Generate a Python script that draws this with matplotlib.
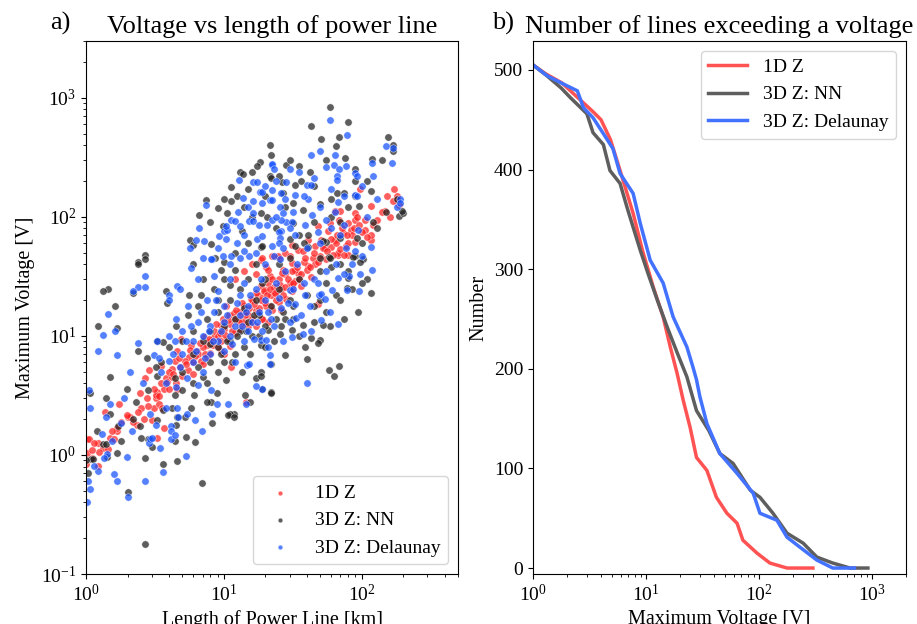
import numpy as np
import matplotlib
matplotlib.use("Agg")
import matplotlib.pyplot as plt

plt.rcParams["font.family"] = "serif"
plt.rcParams["font.serif"] = ["Liberation Serif", "DejaVu Serif"]
plt.rcParams["mathtext.fontset"] = "stix"

# ---- panel a) data: (length km, max voltage V) ----
pts_1d = [
    (1.0, 0.84), (1.01, 1.04), (1.02, 1.36), (1.05, 1.37), (1.22, 1.26), (1.33, 1.14),
    (1.44, 1.12), (1.49, 1.38), (1.6, 1.36), (1.67, 1.58), (1.67, 1.68), (1.22, 0.81),
    (2.0, 2.07), (2.07, 2.1), (2.36, 1.8), (2.65, 2.0), (3.0, 1.95), (3.3, 1.38),
    (3.7, 1.68), (1.1, 0.95), (1.15, 1.25), (1.37, 2.28), (1.73, 2.7), (1.97, 2.15),
    (2.45, 3.3), (2.52, 2.46), (2.75, 3.0), (2.7, 4.4), (2.88, 5.2), (3.1, 2.46),
    (3.2, 3.0), (3.4, 2.66), (3.58, 2.5), (3.3, 3.4), (3.7, 3.6), (3.8, 4.4),
    (4.2, 4.5), (4.2, 5.3), (4.4, 6.1), (4.6, 7.4), (4.9, 9.4), (5.6, 6.7),
    (5.8, 8.4), (6.4, 7.4), (6.8, 6.1), (7.2, 9.8), (7.5, 8.4), (8.5, 9.8),
    (9.5, 12.3), (10.3, 18), (10.9, 15), (11.8, 15.5), (13.2, 13.8), (14, 12.5),
    (14.6, 15.8), (15.8, 20.3), (17, 16.5), (17.8, 22), (20, 24.5), (20.3, 37.6),
    (21.6, 32), (18.5, 26.5), (17, 33), (21.6, 18), (14.4, 2.8), (11.2, 5.5),
    (9.5, 7.4), (4.6, 3.6), (3.5, 5.6), (18.5, 43), (22.2, 47), (25, 45),
    (27, 36), (31, 41), (34.5, 34), (41, 39), (43, 31), (36, 26.5),
    (28.3, 20.3), (25, 19.2), (20.3, 18), (22.2, 16.5), (18.8, 13.8), (21, 13.1),
    (26, 16.5), (24, 23.3), (31, 26.5), (33, 29), (67, 48), (79, 48),
    (48, 18.5), (98, 170), (153, 150), (172, 170), (116, 123), (188, 125),
    (63.5, 112), (70, 112), (89, 108), (48, 84), (58.6, 89), (69, 94),
    (79, 89), (89, 94), (93, 100), (57, 76), (63.5, 64), (73, 73),
    (83, 78), (105, 78), (116, 64), (41, 64), (45.6, 57), (50.6, 64),
    (54, 55), (67, 50), (76.5, 57), (34.5, 53), (31, 58), (27.8, 50),
    (37.6, 52), (24.9, 47), (30.3, 47), (181, 139), (148, 112), (116, 70),
    (12, 30), (14, 35), (16, 40), (19, 45), (21, 36),
    (3.2, 3.2), (3.5, 4.0), (4.0, 3.6), (4.0, 5.0), (4.5, 4.0), (4.8, 5.5),
    (5.0, 4.6), (5.2, 6.2), (5.5, 5.2), (6.0, 6.0), (6.0, 4.8), (6.5, 7.0),
    (7.0, 5.8), (7.0, 8.0), (7.5, 6.6), (8.0, 7.2), (8.0, 9.0), (8.5, 11),
    (9.0, 8.0), (9.0, 10), (9.5, 9.0), (10, 7.0), (10, 11.5), (10.5, 9.5),
    (11, 12.5), (11, 8.2), (12, 10.5), (12, 14), (13, 11.5), (13, 16),
    (14, 13), (14, 18), (15, 12), (15, 15), (16, 20), (16, 14),
    (17, 12), (17, 23), (18, 17), (19, 21), (19, 14), (20, 19),
    (21, 28), (22, 22), (23, 26), (24, 20), (25, 30), (26, 25),
    (27, 22), (28, 33), (30, 28), (31, 24), (33, 36), (35, 30),
    (38, 42), (40, 36), (44, 45), (46, 40), (50, 47), (55, 44),
    (60, 56), (62, 48), (65, 60), (70, 54), (75, 48), (80, 60),
    (85, 70), (90, 62), (100, 75), (110, 68), (120, 85), (130, 95),
    (140, 110), (160, 100), (170, 135), (180, 150),
    (4.3, 4.8), (4.7, 6.5), (5.3, 5.8), (5.7, 7.6), (6.2, 6.8), (6.7, 8.8),
    (7.3, 7.0), (7.8, 9.5), (8.3, 8.4), (8.8, 12.5), (9.3, 10.5), (9.8, 14),
    (10.2, 10.2), (10.8, 13.5), (11.5, 11), (12.3, 16.5), (12.8, 13), (13.5, 19),
    (14.3, 15), (15.2, 17), (15.8, 13), (16.5, 18.5), (17.5, 15.5), (18.5, 20),
    (19.5, 24), (20.5, 22), (21.5, 25), (22.5, 30), (23.5, 23), (25.5, 27),
    (26.5, 34), (28, 26), (29, 30), (31, 35), (32, 28), (34, 38),
    (36, 33), (39, 45), (42, 38), (45, 50), (48, 42), (52, 55),
    (56, 52), (60, 65), (66, 70), (72, 80), (78, 70), (88, 80),
    (95, 85), (105, 95), (2.2, 1.9), (2.4, 2.3), (2.8, 2.6), (3.1, 3.6),
    (3.4, 3.1), (3.9, 4.1), (1.8, 1.9), (1.55, 1.6), (1.25, 1.05), (1.1, 1.1),
]

pts_nn = [
    (58.6, 840), (43, 580), (79, 630), (50.6, 455), (69, 465), (65, 390),
    (154, 470), (170, 405), (22, 330), (21.7, 400), (18.4, 290), (17.3, 265),
    (13, 240), (13.7, 230), (16, 237), (12.4, 149), (11.3, 177), (11.2, 136),
    (10.5, 108), (9.1, 119), (9.8, 84), (7.4, 138), (6.6, 104), (5.7, 64),
    (8.1, 59), (13.5, 76), (18.7, 56), (20.7, 100), (21.7, 220), (15, 170),
    (28.3, 275), (35, 265), (76, 310), (89, 250), (89, 202), (119, 305),
    (170, 358), (42, 237), (22, 210), (26.5, 195), (33, 184), (66, 160),
    (75, 158), (116, 165), (89, 150), (37.5, 114), (50, 128), (96, 123),
    (188, 101), (18.5, 107), (31.5, 89), (35, 71), (41, 70), (70, 91),
    (70, 67), (93, 67), (18.8, 57), (33, 57), (41, 56), (50, 45),
    (58, 46), (89, 47), (102, 44), (55, 62), (52, 63), (2.66, 48),
    (2.66, 44), (2.4, 42), (8.6, 45), (10, 42), (6.0, 58),
    (2.37, 40), (1.44, 25), (1.33, 24), (1.62, 18), (1.22, 12), (1.67, 11.7),
    (2.2, 23), (3.25, 9.1), (3.6, 8.9), (3.8, 24), (2.75, 6.5), (2.4, 7.5),
    (1.49, 4.5), (1.97, 3.6), (1.06, 3.3), (1.39, 3.0), (2.3, 2.8), (3.3, 4.6),
    (4.4, 4.4), (4.4, 3.2), (5.8, 2.5), (11.8, 2.2), (11.0, 2.2), (4.6, 2.1),
    (8.1, 2.8), (7.5, 2.8), (15.6, 2.8), (18.5, 5), (21.8, 3.4), (17, 4.4),
    (14.3, 3.2), (8.9, 3.3), (10.3, 4.3), (6.1, 3.2), (9.5, 36), (12, 36),
    (11, 27), (5.6, 22), (6.8, 22), (3.9, 19),
    (58.6, 45), (86, 46), (98, 42), (79, 30.5), (78, 25.5), (116, 23),
    (94.5, 15.8), (58.6, 12.1), (52.5, 12.3), (37.6, 12.3), (31, 11.2), (43, 9.6),
    (49.6, 9.3), (48, 8.8), (39, 8.1), (28, 6.9), (40, 6.4), (58, 5.2),
    (68, 5.6), (63, 4.6), (22, 3.3), (19, 3.6), (25.5, 10.3), (21, 11.2),
    (18.5, 8.4), (22, 5.8), (18.5, 4.6),
    (1.03, 0.71), (1.08, 0.93), (1.12, 0.93), (1.33, 1.23), (1.39, 1.23), (1.41, 0.96),
    (1.67, 1.04), (2.0, 0.49), (1.7, 1.75), (2.2, 2.0), (2.45, 1.75), (2.66, 0.95),
    (2.66, 0.18), (2.8, 1.36), (3.03, 1.17), (3.25, 1.96), (3.64, 0.84), (4.6, 0.89),
    (4.4, 1.3), (4.5, 1.8), (5.3, 1.41), (6.2, 1.28), (5.2, 2.07), (6.9, 0.58),
    (8.2, 1.85), (10.8, 2.15), (11.8, 2.1), (1.0, 0.9),
    (3.5, 6), (4.0, 8), (4.5, 12), (5, 5), (5, 9), (5.5, 15),
    (6, 7), (6, 11), (6.5, 18), (7, 4.5), (7, 9), (7.5, 14),
    (8, 6), (8, 11), (8.5, 25), (9, 8), (9, 16), (10, 6),
    (10, 12), (10, 30), (11, 9), (11, 20), (12, 14), (12, 7),
    (13, 11), (13, 25), (14, 17), (14, 8), (15, 13), (15, 30),
    (16, 10), (17, 20), (18, 15), (19, 28), (20, 12), (22, 18),
    (24, 14), (25, 25), (27, 16), (30, 20), (32, 14), (35, 30),
    (40, 22), (45, 18), (50, 35), (55, 28), (60, 38), (65, 22),
    (70, 40), (80, 35), (100, 60), (110, 30), (130, 80), (150, 110),
    (180, 140), (200, 108), (195, 112), (120, 90), (100, 28),
    (20, 150), (25, 220), (30, 300), (27, 160), (32, 130), (36, 200),
    (45, 180), (55, 300), (60, 140), (110, 200), (140, 300), (28, 120),
    (14, 120), (16, 100), (24, 80), (30, 65), (8, 90), (10, 140),
    (6, 40), (7, 30), (9, 20), (12, 50), (15, 60), (17, 40),
    (20, 30), (25, 40), (30, 45), (38, 60), (45, 90), (60, 100),
    (80, 120), (4.2, 2.5), (5, 3.5), (6, 4), (6.5, 5.5), (7.5, 4),
    (8, 8.5), (9, 5), (9.5, 7), (10.5, 9), (11.5, 6), (12.5, 10),
    (13.5, 5), (14.5, 11), (15.5, 7), (16.5, 15), (18, 10), (20, 8),
    (23, 9), (26, 12), (28, 14), (32, 18), (35, 10), (45, 13),
    (50, 20), (55, 16), (70, 20), (75, 14), (85, 25), (2.8, 3.5),
    (3.2, 5.5), (3.6, 2.4), (2.5, 1.4), (1.8, 1.3), (1.5, 2.2), (1.2, 1.6),
]

pts_del = [
    (7.4, 126), (6.6, 80), (5.7, 55), (6.3, 64), (7.2, 63), (9.2, 69),
    (10, 76), (10.5, 78), (10.3, 65), (11.3, 94), (12, 92), (12.6, 110),
    (13, 83), (13.7, 144), (12.8, 205), (15.1, 93), (16.4, 92), (16.4, 195),
    (17.3, 195), (16.4, 135), (16.4, 108), (18.4, 162), (17.3, 65), (19, 69),
    (20.7, 85), (21.7, 139), (22.2, 270), (8.2, 44), (9.8, 47), (11.3, 47),
    (13.2, 45), (15.3, 47), (14, 52), (10.3, 84),
    (58.6, 645), (78, 490), (50, 355), (43, 333), (64, 330), (151, 390),
    (170, 380), (118, 285), (167, 285), (22.2, 280), (23, 250), (35, 237),
    (63, 275), (68, 250), (76.5, 265), (89, 232), (93, 220), (66, 220),
    (66, 205), (28.3, 195), (40, 184), (43, 184), (22.5, 168), (26, 158),
    (33, 154), (19, 162), (22.2, 139), (41, 140), (75, 150), (89, 154),
    (93, 150), (19, 130), (25.6, 120), (27, 108), (50, 120), (67, 133),
    (63.5, 110), (43.6, 103), (22.2, 94), (28.3, 90), (31, 90), (26, 94),
    (39, 86), (26, 76), (25, 75), (25.6, 66), (30, 80), (74, 85),
    (93.5, 78), (89, 52), (116, 56), (100, 47), (76.5, 55), (22.5, 57),
    (25, 60), (23, 47), (25.6, 44),
    (118, 36), (98, 33), (80.5, 32), (67, 30.5), (74, 33), (78, 24.5),
    (95, 24), (61, 24.5), (58.6, 15.8), (50.6, 13.6), (67, 12.6), (33.6, 14.1),
    (43, 11), (37.6, 10.4), (31, 9.7), (49.3, 22), (51, 22.5), (54, 20.3),
    (39, 22), (33, 18.5), (30, 24.5), (21.6, 5.8), (19, 3.6), (40, 4.0),
    (21.6, 6.9), (21, 8), (18.5, 9.3), (20.3, 9.3),
    (5.8, 37), (8.1, 44), (2.66, 32), (2.37, 26), (2.66, 26), (2.2, 24),
    (1.44, 15.2), (1.33, 10.2), (1.62, 11), (1.22, 7.5), (1.67, 6.9), (1.05, 3.5),
    (1.07, 2.5), (1.39, 2.07), (1.49, 2.7), (2.4, 8.8), (3.1, 6.9), (3.4, 6.5),
    (4.0, 6.1), (4.6, 26.5), (4.8, 25), (4.0, 22), (4.0, 20), (4.4, 9),
    (5.4, 4.4), (4.5, 3.7), (3.8, 2.5), (4.6, 2.5), (5.4, 2.2), (6.5, 3.9),
    (8.1, 3.5), (8.9, 2.66), (10.8, 2.66), (14.6, 5.7), (17, 3.8), (14.4, 2.7),
    (15.3, 5.8),
    (2.15, 1.58), (1.8, 1.85), (1.42, 1.02), (1.35, 0.95), (1.22, 0.74), (1.14, 0.81),
    (1.07, 0.52), (1.02, 0.40), (1.97, 0.96), (1.59, 0.69), (1.67, 0.61), (2.0, 0.44),
    (2.66, 0.6), (3.64, 0.72), (2.85, 1.26), (2.9, 1.36), (3.03, 1.38), (3.2, 1.8),
    (3.46, 1.14), (4.16, 1.74), (4.16, 1.58), (4.16, 1.36), (4.4, 1.46), (4.66, 2.07),
    (5.3, 0.98), (6.2, 1.96), (6.9, 1.6), (8.2, 2.2), (1.03, 0.6),
    (3.5, 5), (4, 10), (4.5, 14), (5, 7), (5, 11), (5.5, 18),
    (6, 6), (6, 9), (6.5, 13), (7, 5), (7, 10), (7.5, 20),
    (8, 7), (8, 12), (8.5, 16), (9, 9), (9, 24), (10, 7.5),
    (10, 13), (10, 18), (11, 10), (11, 30), (12, 12), (12, 6),
    (13, 15), (13, 22), (14, 9), (14, 28), (15, 11), (15, 18),
    (16, 13), (17, 25), (18, 16), (19, 11), (20, 20), (22, 14),
    (24, 28), (26, 17), (28, 35), (30, 13), (34, 40), (38, 28),
    (45, 30), (50, 60), (55, 35), (60, 80), (70, 70), (85, 40),
    (110, 100), (130, 140), (180, 120), (190, 140), (190, 130),
    (20, 180), (24, 200), (30, 250), (28, 140), (32, 110), (38, 150),
    (45, 210), (55, 260), (60, 170), (100, 180), (120, 220), (15, 120),
    (18, 85), (24, 100), (9, 55), (7, 45), (6.5, 30), (8.5, 32),
    (11, 40), (12.5, 60), (14, 70), (17, 50), (20, 40), (27, 55),
    (33, 70), (40, 55), (48, 75), (55, 95),
    (3.8, 4), (4.3, 7), (4.8, 5.5), (5.3, 9), (5.8, 12), (6.3, 7.5),
    (6.8, 16), (7.3, 6.5), (7.8, 11), (8.3, 9), (8.8, 20), (9.5, 11),
    (10.5, 15), (11.5, 8.5), (12.5, 19), (13.5, 12), (14.5, 16), (15.5, 22),
    (16.5, 9.5), (17.5, 13), (18.5, 30), (21, 16), (23, 12), (25, 21),
    (27, 9), (29, 19), (32, 25), (36, 15), (42, 18), (48, 28),
    (65, 40), (2.6, 4), (2.9, 2.2), (3.3, 9), (2.1, 5), (1.9, 3),
    (1.3, 1.5), (1.55, 1.3),
]

# ---- panel b) data: number of lines exceeding a voltage ----
volt_1d = [1.0, 1.3, 1.8, 2.5, 3.4, 4.0, 4.85, 5.9, 7.7, 9.3, 11.6, 14.2, 16.4, 18.9,
           21.3, 24.6, 28, 34.6, 42, 52, 64, 72, 96, 125, 177, 300]
num_1d = [505, 496, 487, 472, 458, 450, 430, 399, 356, 319, 282, 252, 222, 195,
          169, 141, 111, 98, 71, 55, 45, 28, 15, 5, 0, 0]

volt_nn = [1.0, 1.3, 1.77, 2.15, 3.0, 3.4, 4.2, 4.8, 5.9, 6.8, 7.7, 8.9, 10.4, 12.6,
           15.4, 18.9, 23, 28, 36, 45, 59, 84, 102, 133, 177, 246, 325, 450, 640, 920]
num_nn = [505, 495, 482, 472, 456, 437, 425, 399, 386, 362, 342, 319, 296, 269,
          242, 216, 192, 158, 138, 115, 105, 78, 71, 55, 35, 25, 11, 5, 0, 0]

volt_del = [1.0, 1.34, 1.77, 2.47, 2.8, 3.4, 4.2, 5.1, 5.9, 7.7, 8.9, 10.9, 14.2, 17.4,
            23, 26, 28, 30, 34.6, 45, 64, 89, 102, 144, 177, 230, 325, 450, 700]
num_del = [505, 494, 487, 479, 462, 452, 436, 421, 396, 376, 346, 309, 286, 252,
           222, 202, 189, 172, 145, 115, 95, 75, 55, 48, 31, 21, 8, 0, 0]

labels = ["1D Z", "3D Z: NN", "3D Z: Delaunay"]
colors = ["#ff2020", "#202020", "#1450ff"]
line_colors = ["#ff5252", "#5e5e5e", "#4272ff"]

fig = plt.figure(figsize=(9.17, 6.24), dpi=100)
ax1 = fig.add_axes([0.0938, 0.0801, 0.4057, 0.8542])
ax2 = fig.add_axes([0.5812, 0.0801, 0.4068, 0.8542])

# a) scatter
for pts, lab, col in zip([pts_1d, pts_nn, pts_del], labels, colors):
    arr = np.array(pts)
    ax1.scatter(arr[:, 0], arr[:, 1], s=28, c=col, alpha=0.72,
                edgecolors="white", linewidths=0.4, label=lab)
ax1.set_xscale("log")
ax1.set_yscale("log")
ax1.set_xlim(1, 500)
ax1.set_ylim(0.1, 3000)
ax1.set_xlabel("Length of Power Line [km]", fontsize=14.5)
ax1.set_ylabel("Maximum Voltage [V]", fontsize=14.5)
ax1.set_title("Voltage vs length of power line", fontsize=19)
ax1.text(-0.097, 1.012, "a)", transform=ax1.transAxes, fontsize=19, va="bottom")
ax1.tick_params(labelsize=14)
ax1.legend(loc="lower right", fontsize=14, markerscale=0.65)

# b) exceedance curves
for v, n, lab, col in zip([volt_1d, volt_nn, volt_del], [num_1d, num_nn, num_del],
                          labels, line_colors):
    ax2.plot(v, n, color=col, lw=2.5, label=lab)
ax2.set_xscale("log")
ax2.set_xlim(1, 2000)
ax2.set_ylim(-6, 529)
ax2.set_xlabel("Maximum Voltage [V]", fontsize=14.5)
ax2.set_ylabel("Number", fontsize=14.5)
ax2.set_title("Number of lines exceeding a voltage", fontsize=19)
ax2.text(-0.11, 1.012, "b)", transform=ax2.transAxes, fontsize=19, va="bottom")
ax2.tick_params(labelsize=14)
ax2.legend(loc="upper right", fontsize=14)

fig.savefig("out.png", dpi=100)
